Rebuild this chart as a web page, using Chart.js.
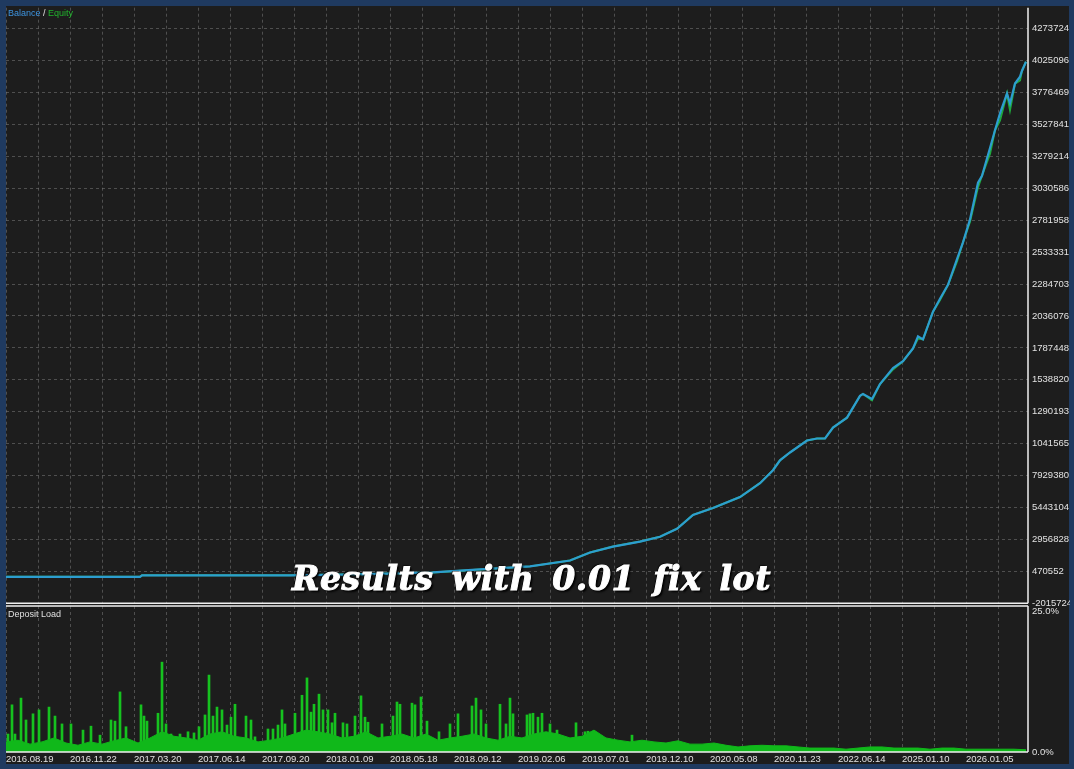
<!DOCTYPE html>
<html>
<head>
<meta charset="utf-8">
<script src="https://cdn.jsdelivr.net/npm/chart.js@4.4.1/dist/chart.umd.min.js"></script>
<style>
  html, body { margin: 0; padding: 0; background: #1f3a60; }
  #wrap { position: relative; width: 1074px; height: 769px; overflow: hidden; }
  #panel { position: absolute; left: 6px; top: 6px; width: 1063px; height: 758px; background: #1d1d1d; }
  #topClip { position: absolute; left: 0; top: 0; width: 1070px; height: 606px; overflow: hidden; }
  #topBox { position: absolute; left: 0; top: -2px; width: 1070px; height: 615px; }
  #botBox { position: absolute; left: 0; top: 596px; width: 1070px; height: 173px; }
  .note { position: absolute; font: 9px "Liberation Sans", Arial, sans-serif; color: #e0e0e0; white-space: nowrap; }
  #stamp { position: absolute; left: 292px; top: 559px; font: italic bold 33px "DejaVu Serif", serif;
           color: #ffffff; white-space: nowrap; word-spacing: 6px; letter-spacing: 0.6px;
           -webkit-text-stroke: 1px #ffffff;
           text-shadow: 2px 2px 2px #000, -1px -1px 1px #000; }
</style>
</head>
<body>
<div id="wrap">
  <div id="panel"></div>
  <div id="topClip"><div id="topBox"><canvas id="balanceChart"></canvas></div></div>
  <div id="botBox"><canvas id="loadChart"></canvas></div>
  <div class="note" style="left:8px; top:8px;"><span style="color:#3d94e0">Balance</span> / <span style="color:#22b52e">Equity</span></div>
  <div class="note" style="left:8px; top:609px;">Deposit Load</div>
  <div id="stamp">Results with 0.01 fix lot</div>
</div>
<script>
// x axis is the trade number, dates are only printed every 128 trades
const dateLabels = ['2016.08.19', '2016.11.22', '2017.03.20', '2017.06.14', '2017.09.20', '2018.01.09',
  '2018.05.18', '2018.09.12', '2019.02.06', '2019.07.01', '2019.12.10', '2020.05.08',
  '2020.11.23', '2022.06.14', '2025.01.10', '2026.01.05'];
const tradeMax = 2044;
const gridStep = 64;

// right axis of the balance panel
const balanceTicks = [4273724, 4025096, 3776469, 3527841, 3279214, 3030586, 2781958, 2533331, 2284703,
  2036076, 1787448, 1538820, 1290193, 1041565, 792938, 544310.4, 295682.8, 47055.2, -201572.4];
const balanceTickLabels = ['4273724', '4025096', '3776469', '3527841', '3279214', '3030586', '2781958',
  '2533331', '2284703', '2036076', '1787448', '1538820', '1290193', '1041565', '7929380', '5443104',
  '2956828', '470552', '-2015724'];

// balance / equity curve
const curveTrades = [0, 268, 272, 568, 708, 854, 948, 1048, 1128, 1168, 1214, 1268, 1308, 1342, 1374,
  1414, 1468, 1508, 1534, 1548, 1568, 1602, 1622, 1638, 1654, 1682, 1708, 1714, 1732, 1748, 1774,
  1794, 1814, 1824, 1834, 1854, 1868, 1884, 1902, 1914, 1928, 1944, 1952, 1968, 1978, 1988, 2002,
  2008, 2018, 2028, 2032, 2040];
const balanceValues = [5000, 5000, 16000, 16000, 24000, 39000, 62000, 86000, 132000, 194000, 240000,
  279000, 317000, 379000, 487000, 541000, 626000, 734000, 835000, 912000, 973000, 1066000, 1082000,
  1082000, 1167000, 1244000, 1414000, 1429000, 1390000, 1506000, 1630000, 1684000, 1784000, 1877000,
  1854000, 2070000, 2170000, 2278000, 2479000, 2610000, 2788000, 3074000, 3128000, 3344000, 3483000,
  3614000, 3769000, 3691000, 3846000, 3900000, 3946000, 4016000];
const equityValues = [5000, 5000, 16000, 16000, 24000, 39000, 62000, 86000, 132000, 194000, 240000,
  279000, 317000, 379000, 487000, 541000, 626000, 734000, 835000, 912000, 973000, 1066000, 1082000,
  1082000, 1167000, 1244000, 1414000, 1429000, 1380000, 1506000, 1620000, 1684000, 1784000, 1860000,
  1854000, 2070000, 2160000, 2278000, 2460000, 2610000, 2770000, 3040000, 3128000, 3300000, 3483000,
  3560000, 3769000, 3640000, 3846000, 3870000, 3946000, 4016000];

// deposit load: continuous base plus single spikes (percent)
const baseTrades = [];
for (let t = 0; t <= 2040; t += 24) baseTrades.push(t);
const baseLoad = [1.8, 2.1, 1.4, 1.8, 2.5, 1.6, 1.2, 1.8, 1.4, 2.0, 2.5, 1.6, 2.5, 3.6, 2.8, 2.5, 2.1,
  3.2, 3.6, 2.8, 2.5, 1.8, 2.1, 2.5, 3.2, 3.9, 3.6, 3.2, 2.5, 2.8, 3.6, 2.5, 2.8, 3.2, 2.5, 3.2, 2.1,
  2.5, 2.8, 3.2, 2.5, 2.1, 2.8, 2.5, 3.2, 3.6, 3.2, 2.5, 2.8, 3.9, 2.5, 2.1, 1.8, 2.1, 1.8, 1.6, 2.0,
  1.4, 1.4, 1.6, 1.2, 0.9, 1.1, 1.2, 1.1, 1.1, 0.9, 0.7, 0.7, 0.7, 0.5, 0.7, 0.9, 0.9, 0.7, 0.7, 0.7,
  0.5, 0.7, 0.7, 0.5, 0.5, 0.5, 0.5, 0.5, 0.4];
const spikeTrades = [4, 12, 18, 30, 40, 54, 66, 86, 98, 112, 130, 154, 170, 188, 210, 218, 228, 240,
  270, 276, 282, 304, 312, 320, 330, 348, 364, 376, 386, 398, 406, 414, 422, 432, 442, 450, 458, 480,
  490, 498, 524, 534, 544, 552, 558, 578, 592, 602, 610, 616, 626, 634, 644, 652, 658, 674, 682, 698,
  710, 718, 724, 752, 774, 782, 788, 812, 818, 830, 842, 866, 888, 904, 932, 940, 950, 960, 988, 1000,
  1008, 1014, 1042, 1048, 1054, 1064, 1072, 1088, 1102, 1140, 1158, 1164, 1182, 1252];
const spikeLoad = [3.2, 8.4, 3.2, 9.6, 5.7, 6.8, 7.5, 8.0, 6.4, 5.0, 5.0, 3.9, 4.6, 3.0, 5.7, 5.5, 10.7,
  4.5, 8.4, 6.4, 5.5, 6.9, 16.0, 5.0, 3.2, 3.2, 3.6, 3.4, 4.5, 6.6, 13.7, 6.4, 8.0, 7.5, 4.8, 6.2, 8.5,
  6.4, 5.7, 2.7, 4.1, 4.1, 4.8, 7.5, 5.0, 6.9, 10.1, 13.2, 7.1, 8.5, 10.3, 7.5, 7.5, 5.2, 6.9, 5.2, 5.0,
  6.4, 10.0, 6.2, 5.3, 5.0, 6.4, 8.9, 8.5, 8.7, 8.4, 9.8, 5.5, 3.6, 5.0, 6.8, 8.2, 9.6, 7.5, 5.0, 8.5,
  5.0, 9.6, 6.8, 6.6, 6.8, 6.9, 6.2, 6.9, 5.0, 3.9, 5.2, 3.6, 3.7, 3.0, 3.0];

const fontSmall = { family: '"Liberation Sans", Arial, sans-serif', size: 9.5 };
const gridColor = 'rgba(120,120,120,0.55)';

function zip(xs, ys) {
  return xs.map((x, i) => ({ x: x, y: ys[i] }));
}

function gridTicks(scale) {
  const ticks = [];
  for (let t = 0; t < tradeMax; t += gridStep) ticks.push({ value: t });
  scale.ticks = ticks;
}

// white frame lines along chosen sides of the chart area
const framePlugin = {
  id: 'frame',
  afterDraw(chart, args, opts) {
    const { ctx, chartArea: a } = chart;
    ctx.save();
    ctx.strokeStyle = '#f0f0f0';
    ctx.lineWidth = 1.5;
    ctx.beginPath();
    (opts.sides || []).forEach(side => {
      if (side === 'top') { ctx.moveTo(a.left, a.top); ctx.lineTo(a.right, a.top); }
      if (side === 'bottom') { ctx.moveTo(a.left, a.bottom); ctx.lineTo(a.right, a.bottom); }
      if (side === 'right') { ctx.moveTo(a.right, a.top); ctx.lineTo(a.right, a.bottom); }
    });
    ctx.stroke();
    ctx.restore();
  }
};

new Chart(document.getElementById('balanceChart'), {
  type: 'line',
  data: {
    datasets: [
      {
        label: 'Balance',
        data: zip(curveTrades, balanceValues),
        borderColor: '#2d9dd0',
        borderWidth: 2.2,
        pointRadius: 0,
        tension: 0
      },
      {
        label: 'Equity',
        data: zip(curveTrades, equityValues),
        borderColor: '#1faa3c',
        borderWidth: 2,
        pointRadius: 0,
        tension: 0
      }
    ]
  },
  options: {
    responsive: true,
    maintainAspectRatio: false,
    animation: false,
    layout: { padding: { left: 6, top: 6, right: 0, bottom: 0 } },
    plugins: {
      legend: { display: false },
      tooltip: { enabled: false },
      frame: { sides: ['right', 'bottom'] }
    },
    scales: {
      x: {
        type: 'linear',
        min: 0,
        max: tradeMax,
        afterBuildTicks: gridTicks,
        afterFit: s => { s.height = 3; s.paddingLeft = 0; s.paddingRight = 0; },
        ticks: { display: false },
        grid: { color: gridColor, drawTicks: false },
        border: { display: false, dash: [3, 3] }
      },
      y: {
        position: 'right',
        min: -201572.4,
        max: 4436886,
        afterBuildTicks: s => { s.ticks = balanceTicks.map(v => ({ value: v })); },
        afterFit: s => { s.width = 42; },
        ticks: {
          color: '#e2e2e2',
          font: fontSmall,
          padding: 4,
          autoSkip: false,
          callback: (v, i) => balanceTickLabels[i]
        },
        grid: { color: gridColor, drawTicks: false },
        border: { display: false, dash: [3, 3] }
      }
    }
  },
  plugins: [framePlugin]
});

new Chart(document.getElementById('loadChart'), {
  type: 'bar',
  data: {
    datasets: [
      {
        type: 'line',
        label: 'Load base',
        data: zip(baseTrades, baseLoad),
        borderColor: '#10b81a',
        backgroundColor: '#10b81a',
        borderWidth: 1,
        pointRadius: 0,
        fill: 'origin',
        tension: 0
      },
      {
        label: 'Deposit Load',
        data: zip(spikeTrades, spikeLoad),
        backgroundColor: '#16c21f',
        barThickness: 2,
        grouped: false
      }
    ]
  },
  options: {
    responsive: true,
    maintainAspectRatio: false,
    animation: false,
    layout: { padding: { left: 6, top: 10, right: 0, bottom: 0 } },
    plugins: {
      legend: { display: false },
      tooltip: { enabled: false },
      frame: { sides: ['top', 'right', 'bottom'] }
    },
    scales: {
      x: {
        type: 'linear',
        min: 0,
        max: tradeMax,
        offset: false,
        afterBuildTicks: gridTicks,
        afterFit: s => { s.height = 17; s.paddingLeft = 0; s.paddingRight = 0; },
        ticks: {
          color: '#e2e2e2',
          font: fontSmall,
          padding: 2,
          align: 'start',
          autoSkip: false,
          maxRotation: 0,
          callback: v => (v % 128 === 0 ? dateLabels[v / 128] : '')
        },
        grid: { color: gridColor, drawTicks: false, offset: false },
        border: { display: false, dash: [3, 3] }
      },
      y: {
        position: 'right',
        min: 0,
        max: 26,
        afterBuildTicks: s => { s.ticks = [{ value: 0 }, { value: 25 }]; },
        afterFit: s => { s.width = 42; },
        ticks: {
          color: '#e2e2e2',
          font: fontSmall,
          padding: 4,
          callback: v => v.toFixed(1) + '%'
        },
        grid: { display: false, drawTicks: false },
        border: { display: false }
      }
    }
  },
  plugins: [framePlugin]
});
</script>
</body>
</html>
